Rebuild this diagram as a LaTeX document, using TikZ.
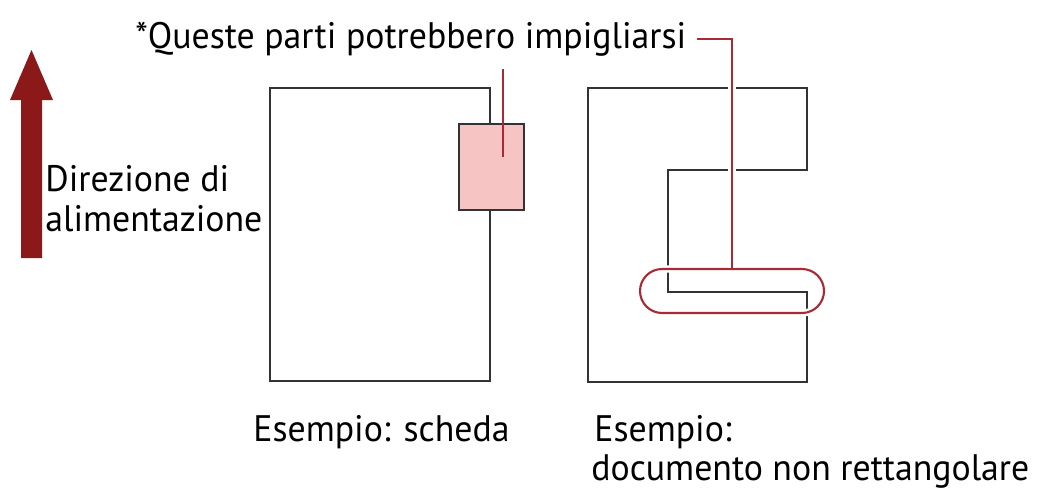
\documentclass[tikz,border=0pt]{standalone}
\usepackage{fontspec}
\setmainfont{PT Sans}[FakeStretch=0.97]
\definecolor{feedred}{rgb}{0.55, 0.1, 0.1}
\definecolor{snagred}{rgb}{0.66, 0.17, 0.2}
\definecolor{tabpink}{rgb}{0.97, 0.77, 0.77}
\usepackage{tikz}
\usetikzlibrary{positioning}

\begin{document}
\begin{tikzpicture}[x=0.02cm, y=-0.02cm,
    txt/.style={font=\fontsize{21}{24}\selectfont, inner sep=0pt, anchor=base west},
    paper/.style={draw=black!80, line width=1.5pt},
    snag/.style={draw=snagred, line width=1.2pt, preaction={draw=white, line width=4pt}}]

    \useasboundingbox (0,0) rectangle (1040,490);

    % feed direction
    \fill[feedred] (21,258) -- (21,100) -- (10,100) -- (31.5,50) -- (53,100) -- (42,100) -- (42,258) -- cycle;
    \node[txt] (dir) at (45,191) {Direzione di};
    \node[txt] (alim) at (45,231) {alimentazione};

    % card
    \draw[paper] (270,88) rectangle (490,381);
    \node[paper, fill=tabpink, minimum width=1.3cm, minimum height=1.72cm] (tab) at (491.5,167) {};
    \coordinate (tabtip) at (503,157);
    \draw[snagred, line width=1pt] (tabtip) -- ++(0,-88);

    % non rectangular document
    \draw[paper] (588,88) -- (807,88) -- (807,170) -- (668,170) -- (668,292) -- (807,292) -- (807,382) -- (588,382) -- cycle;
    \node[snag, rounded corners=0.44cm, minimum width=3.68cm, minimum height=0.88cm] (loop) at (732,291) {};

    \node[txt] (note) at (135,48) {*Queste parti potrebbero impigliarsi};
    \draw[snag] ([xshift=0.2cm]note.east) -| (loop.north);

    \node[txt] (card) at (253,441) {Esempio: scheda};
    \node[txt] (odd) at (594,441) {Esempio:};
    \node[txt] (odd2) at (591,480) {documento non rettangolare};

\end{tikzpicture}
\end{document}
